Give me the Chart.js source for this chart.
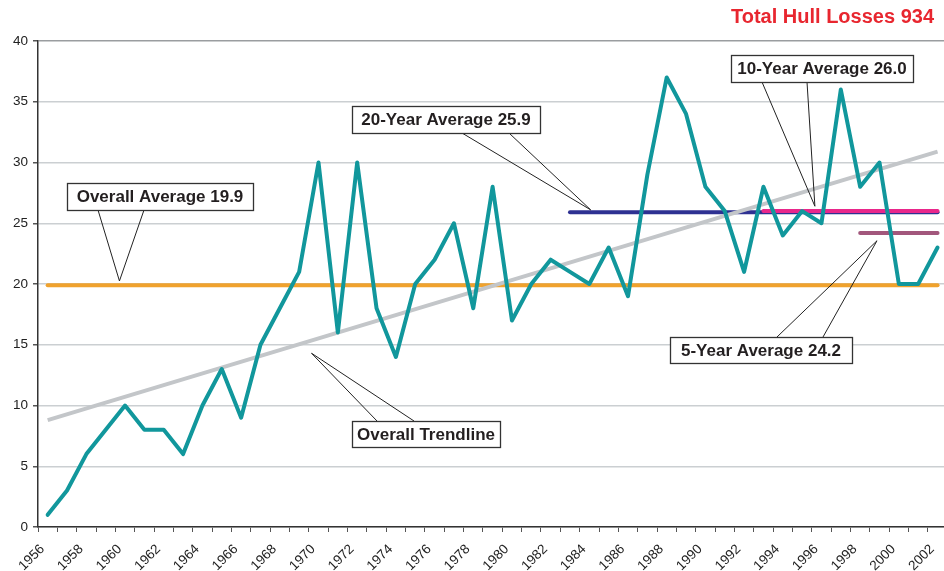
<!DOCTYPE html>
<html>
<head>
<meta charset="utf-8">
<script src="https://cdn.jsdelivr.net/npm/chart.js@4.4.1/dist/chart.umd.min.js"></script>
<style>
  html, body { margin: 0; padding: 0; background: #fff; overflow: hidden; }
  #wrap { width: 953px; height: 571px; }
</style>
</head>
<body>
<div id="wrap"><canvas id="hullChart" width="953" height="571"></canvas></div>
<script>
// years on the x axis
const years = [
  "1956", "1957", "1958", "1959", "1960", "1961", "1962", "1963", "1964", "1965",
  "1966", "1967", "1968", "1969", "1970", "1971", "1972", "1973", "1974", "1975",
  "1976", "1977", "1978", "1979", "1980", "1981", "1982", "1983", "1984", "1985",
  "1986", "1987", "1988", "1989", "1990", "1991", "1992", "1993", "1994", "1995",
  "1996", "1997", "1998", "1999", "2000", "2001", "2002"
];

// hull losses per year (total 934)
const hullLosses = [
  1, 3, 6, 8, 10, 8, 8, 6, 10, 13,
  9, 15, 18, 21, 30, 16, 30, 18, 14, 20,
  22, 25, 18, 28, 17, 20, 22, 21, 20, 23,
  19, 29, 37, 34, 28, 26, 21, 28, 24, 26,
  25, 36, 28, 30, 20, 20, 23
];

// averages: [first year, last year, value]
const overallAvg = ["1956", "2002", 19.9];
const avg20 = ["1983", "2002", 25.9];
const avg10 = ["1993", "2002", 26.0];
const avg5 = ["1998", "2002", 24.2];

// trendline end values
const trendYears = ["1956", "2002"];
const trendValues = [8.8, 30.9];

const yTicks = [0, 5, 10, 15, 20, 25, 30, 35, 40];

function span(a) {
  return [{ x: a[0], y: a[2] }, { x: a[1], y: a[2] }];
}

// callouts: box in pixels, tip at (year index, value) on the scales
const callouts = [
  { text: "Overall Average 19.9", box: [67, 183, 186, 27], base: [98, 144], side: "bottom", tip: [3.71, 20.25] },
  { text: "20-Year Average 25.9", box: [352, 106, 188, 27], base: [462, 509], side: "bottom", tip: [28.07, 26.1] },
  { text: "Overall Trendline", box: [352, 421, 148, 26], base: [377, 414], side: "top", tip: [13.64, 14.3] },
  { text: "10-Year Average 26.0", box: [731, 55, 182, 27], base: [762, 807], side: "bottom", tip: [39.66, 26.4] },
  { text: "5-Year Average 24.2", box: [670, 337, 182, 26], base: [777, 823], side: "top", tip: [42.87, 23.56] }
];

const calloutPlugin = {
  id: "callouts",
  afterDraw(chart) {
    const ctx = chart.ctx;
    const xs = chart.scales.x;
    const ys = chart.scales.y;
    ctx.save();

    // title
    ctx.fillStyle = "#e8262f";
    ctx.font = "bold 20px 'Liberation Sans', Arial, sans-serif";
    ctx.textAlign = "right";
    ctx.textBaseline = "middle";
    ctx.fillText("Total Hull Losses 934", 934, 17);

    callouts.forEach((c) => {
      const [bx, by, bw, bh] = c.box;
      const tx = xs.getPixelForValue(c.tip[0]);
      const ty = ys.getPixelForValue(c.tip[1]);
      const edge = c.side === "bottom" ? by + bh : by;

      ctx.strokeStyle = "#222";
      ctx.lineWidth = 1;
      ctx.beginPath();
      ctx.moveTo(c.base[0], edge);
      ctx.lineTo(tx, ty);
      ctx.lineTo(c.base[1], edge);
      ctx.stroke();

      ctx.fillStyle = "#fff";
      ctx.fillRect(bx, by, bw, bh);
      ctx.strokeStyle = "#333";
      ctx.lineWidth = 1.3;
      ctx.strokeRect(bx + 0.5, by + 0.5, bw, bh);

      ctx.fillStyle = "#231f20";
      ctx.font = "bold 17px 'Liberation Sans', Arial, sans-serif";
      ctx.textAlign = "center";
      ctx.textBaseline = "middle";
      ctx.fillText(c.text, bx + bw / 2, by + bh / 2 + 1);
    });
    ctx.restore();
  }
};

new Chart(document.querySelector("#hullChart"), {
  type: "line",
  data: {
    labels: years,
    datasets: [
      {
        label: "Hull losses",
        data: hullLosses,
        borderColor: "#11979c",
        borderWidth: 4,
        borderCapStyle: "round",
        borderJoinStyle: "round",
        pointRadius: 0,
        tension: 0
      },
      {
        label: "Overall Trendline",
        data: trendYears.map((y, i) => ({ x: y, y: trendValues[i] })),
        borderColor: "#c3c6c9",
        borderWidth: 4,
        pointRadius: 0
      },
      {
        label: "10-Year Average",
        data: span(avg10),
        borderColor: "#e9278b",
        borderWidth: 4,
        borderCapStyle: "round",
        pointRadius: 0
      },
      {
        label: "5-Year Average",
        data: span(avg5),
        borderColor: "#a2577c",
        borderWidth: 4,
        borderCapStyle: "round",
        pointRadius: 0
      },
      {
        label: "20-Year Average",
        data: span(avg20),
        borderColor: "#2e3192",
        borderWidth: 4,
        borderCapStyle: "round",
        pointRadius: 0
      },
      {
        label: "Overall Average",
        data: span(overallAvg),
        borderColor: "#f0a22d",
        borderWidth: 4,
        borderCapStyle: "round",
        pointRadius: 0
      }
    ]
  },
  options: {
    responsive: false,
    animation: false,
    devicePixelRatio: 1,
    layout: { padding: { top: 41, left: 0, right: 0, bottom: 0 } },
    plugins: {
      legend: { display: false },
      tooltip: { enabled: false },
      title: { display: false }
    },
    scales: {
      x: {
        type: "category",
        offset: true,
        grid: {
          offset: true,
          drawOnChartArea: false,
          drawTicks: true,
          tickLength: 5,
          color: "#555"
        },
        border: { color: "#333", width: 1.5 },
        ticks: {
          autoSkip: false,
          minRotation: 45,
          maxRotation: 45,
          padding: 4,
          color: "#222",
          font: { family: "'Liberation Sans', Arial, sans-serif", size: 13.5 },
          // trailing spaces nudge the rotated labels left of the tick, as in the original
          callback: function (val, idx) {
            return idx % 2 === 0 ? this.getLabelForValue(val) + "  " : "";
          }
        },
        afterFit: (scale) => { scale.height = 44; }
      },
      y: {
        min: 0,
        max: 40,
        afterBuildTicks: (scale) => { scale.ticks = yTicks.map((v) => ({ value: v })); },
        grid: {
          color: (c) => (c.tick && c.tick.value === 40 ? "#9a9da0" : "#cbcfd2"),
          lineWidth: 1.5,
          tickLength: 5,
          tickColor: "#555"
        },
        border: { color: "#333", width: 1.5 },
        ticks: {
          padding: 5,
          color: "#222",
          font: { family: "'Liberation Sans', Arial, sans-serif", size: 13.5 }
        },
        afterFit: (scale) => { scale.width = 38; }
      }
    }
  },
  plugins: [calloutPlugin]
});
</script>
</body>
</html>
